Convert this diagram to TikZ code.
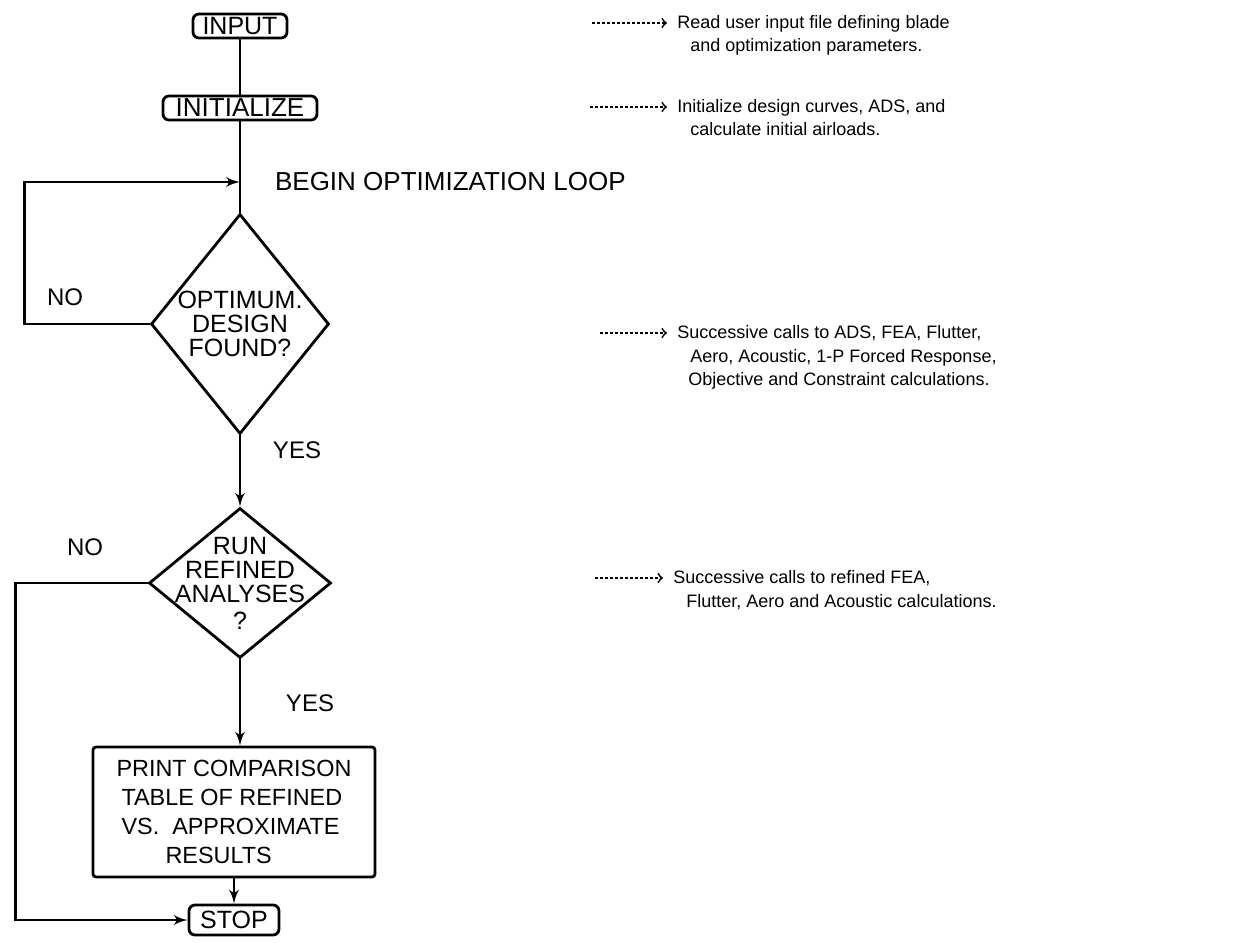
\documentclass[tikz,border=0pt]{standalone}
\usepackage{fontspec}
\setmainfont{Liberation Sans}
\usetikzlibrary{arrows,shapes.geometric}

\begin{document}
\begin{tikzpicture}[
    x=0.5pt,
    y=-0.5pt,
    >=latex',
    font=\fontsize{12}{12}\selectfont,
    term/.style={
		rectangle,
		rounded corners=3pt,
		draw=black,
		line width=1.4pt,
		inner sep=1pt,
		font=\fontsize{12.5}{12}\selectfont,
		text height=9pt,
		text depth=0.5pt,
		minimum height=12pt
	},
	decision/.style={
		diamond,
		draw=black,
		line width=1.4pt,
		inner sep=0pt
	},
	process/.style={
		rectangle,
		rounded corners=1.5pt,
		draw=black,
		line width=1.4pt,
		align=left,
		font=\fontsize{11.7}{14.5}\selectfont,
		minimum width=141pt,
		minimum height=65pt
	},
	inside/.style={
		align=center,
		font=\fontsize{12.5}{12}\selectfont
	},
	note/.style={
		anchor=west,
		inner sep=0pt,
		font=\fontsize{9}{11}\selectfont,
		text height=7pt,
		text depth=2pt
	},
	call/.style={
		-to,
		dash pattern=on 1.5pt off 1pt,
		line width=0.9pt,
		shorten >=5pt
	},
	flow/.style={
		line width=1.4pt
	}
  ]

\useasboundingbox (0,0) rectangle (1236,942);

% flowchart
 \node [term, minimum width=47pt] (input) at (240,26) {INPUT};
 \node [term, below of=input, node distance=41pt, minimum width=77pt,
        font=\fontsize{13}{12}\selectfont] (init) {INITIALIZE};
 \node [decision, below of=init, node distance=108pt,
        minimum width=89pt, minimum height=110pt,
        label={[inside]center:OPTIMUM.\\DESIGN\\FOUND?}] (opt) {};
 \node [decision, below of=opt, node distance=129.5pt,
        minimum width=91pt, minimum height=75pt,
        label={[inside]center:RUN\\REFINED\\ANALYSES\\[1.5pt]?}] (refine) {};
 \node [process, below of=refine, node distance=114.5pt, xshift=-3pt] (print)
 {%
  PRINT COMPARISON\\
  \hspace*{2.5pt}TABLE OF REFINED\\
  \hspace*{2.5pt}VS.\ \ APPROXIMATE\\
  \hspace*{24.5pt}RESULTS
 };
 \node [term, below of=print, node distance=54pt, minimum width=45pt, minimum height=15pt] (stop) {STOP};

 \coordinate [below of=init, node distance=37pt] (loop);

% labels
 \node (begin) [anchor=west, font=\fontsize{13}{13}\selectfont] at (268,182) {BEGIN OPTIMIZATION LOOP};
 \node (no1) at (65,297) {NO};
 \node (yes1) at (297,450) {YES};
 \node (no2) at (85,547) {NO};
 \node (yes2) at (310,703) {YES};

 \draw [flow] (input) -- (init);
 \draw [flow] (init) -- (opt);
 \draw [flow, ->] (opt.west) -- ++(-125,0) |- (loop);
 \draw [flow, ->] (opt.south) -- (refine.north);
 \draw [flow, ->] (refine.west) -- ++(-132,0) |- (stop.west);
 \draw [flow, ->] (refine.south) -- (refine.south |- print.north);
 \draw [flow, ->] (print) -- (stop);

% notes
 \node [note] (readA) at (677,23) {Read user input file defining blade};
 \node [note] (readB) at (690,46) {and optimization parameters.};
 \coordinate (readC) at (592,23);
 \draw [call] (readC) -- (readA);

 \node [note] (initA) at (677,107) {Initialize design curves, ADS, and};
 \node [note] (initB) at (690,130) {calculate initial airloads.};
 \coordinate (initC) at (590,107);
 \draw [call] (initC) -- (initA);

 \node [note] (optA) at (677,333) {Successive calls to ADS, FEA, Flutter,};
 \node [note] (optB) at (690,357) {Aero, Acoustic, 1-P Forced Response,};
 \node [note] (optC) at (688,380) {Objective and Constraint calculations.};
 \coordinate (optD) at (600,333);
 \draw [call] (optD) -- (optA);

 \node [note] (refA) at (673,578) {Successive calls to refined FEA,};
 \node [note] (refB) at (686,602) {Flutter, Aero and Acoustic calculations.};
 \coordinate (refC) at (595,578);
 \draw [call] (refC) -- (refA);

\end{tikzpicture}
\end{document}
